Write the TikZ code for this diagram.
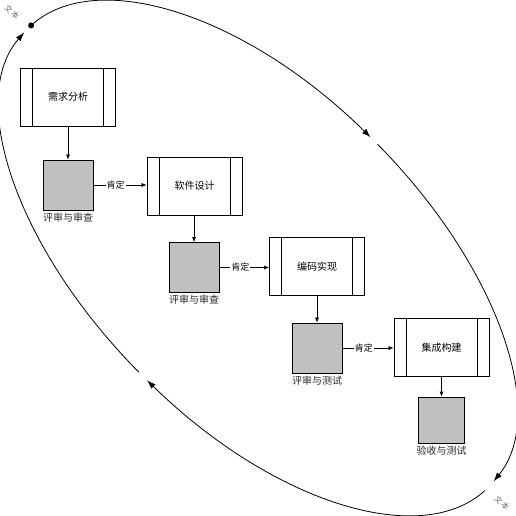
\documentclass[tikz,border=0pt]{standalone}
\usepackage{fontspec}
\newfontfamily\cjk{Noto Sans CJK SC}
\usetikzlibrary{arrows.meta,positioning}
\definecolor{boxgray}{HTML}{C0C0C0}
\begin{document}
\begin{tikzpicture}[x=1pt,y=1pt,
  proc/.style={draw, line width=0.8pt, minimum width=95pt, minimum height=58pt, inner sep=0pt,
    font=\cjk\fontsize{10}{12}\selectfont,
    path picture={
      \draw[line width=0.8pt] ([xshift=12pt]path picture bounding box.north west) -- ([xshift=12pt]path picture bounding box.south west);
      \draw[line width=0.8pt] ([xshift=-12pt]path picture bounding box.north east) -- ([xshift=-12pt]path picture bounding box.south east);
    }},
  review/.style={draw, fill=boxgray, line width=0.8pt, inner sep=0pt},
  lab/.style={font=\cjk\fontsize{10}{12}\selectfont, text=black!85, inner sep=2pt},
  yes/.style={fill=white, font=\cjk\fontsize{9}{10}\selectfont, inner sep=1pt},
  flow/.style={-{Latex[length=5pt,width=4pt]}, line width=0.6pt},
  cyc/.style={-{Latex[length=9pt,width=6pt]}, line width=0.8pt},
  tag/.style={font=\cjk\fontsize{7.5}{8}\selectfont, text=black!60, rotate=-45, inner sep=0pt}
]
\useasboundingbox (0,0) rectangle (516,-516);

% cycle ellipse
\begin{scope}[shift={(258,-258)}, rotate=-45]
  \draw[cyc] (178.6:325pt and 165pt) arc[start angle=178.6, end angle=91, x radius=325pt, y radius=165pt];
  \draw[cyc] (89.3:325pt and 165pt) arc[start angle=89.3, end angle=3, x radius=325pt, y radius=165pt];
  \draw[cyc] (-1.4:325pt and 165pt) arc[start angle=-1.4, end angle=-88.6, x radius=325pt, y radius=165pt];
  \draw[cyc] (-90.6:325pt and 165pt) arc[start angle=-90.6, end angle=-178, x radius=325pt, y radius=165pt];
  \fill (178.6:325pt and 165pt) coordinate (start) circle (3pt);
\end{scope}
\node[tag] (t1) at (12,-12) {文\hspace{2pt}本};
\node[tag] (t2) at (502,-503) {文\hspace{2pt}本};

% stages
\node[proc] (req) at (68,-97) {需求分析};
\node[review, minimum size=50pt] (r1) at (68,-185) {};
\node[lab, below=0pt of r1] (l1) {评审与审查};

\node[proc] (des) at (194.5,-186) {软件设计};
\node[review, minimum size=50pt] (r2) at (194,-267.5) {};
\node[lab, below=0pt of r2] (l2) {评审与审查};

\node[proc] (cod) at (317,-266.5) {编码实现};
\node[review, minimum size=50pt] (r3) at (317,-348) {};
\node[lab, below=0pt of r3] (l3) {评审与测试};

\node[proc] (int) at (441.5,-347.5) {集成构建};
\node[review, minimum size=46pt] (r4) at (441.5,-420) {};
\node[lab, below=0pt of r4] (l4) {验收与测试};

\draw[flow] (req.south -| r1.north) -- (r1.north);
\draw[flow] (des.south -| r2.north) -- (r2.north);
\draw[flow] (cod.south -| r3.north) -- (r3.north);
\draw[flow] (int.south -| r4.north) -- (r4.north);

\draw[flow] (r1.east) -- node[yes, pos=0.42] {肯定} (r1.east -| des.west);
\draw[flow] (r2.east) -- node[yes, pos=0.42] {肯定} (r2.east -| cod.west);
\draw[flow] (r3.east) -- node[yes, pos=0.42] {肯定} (r3.east -| int.west);
\end{tikzpicture}
\end{document}
